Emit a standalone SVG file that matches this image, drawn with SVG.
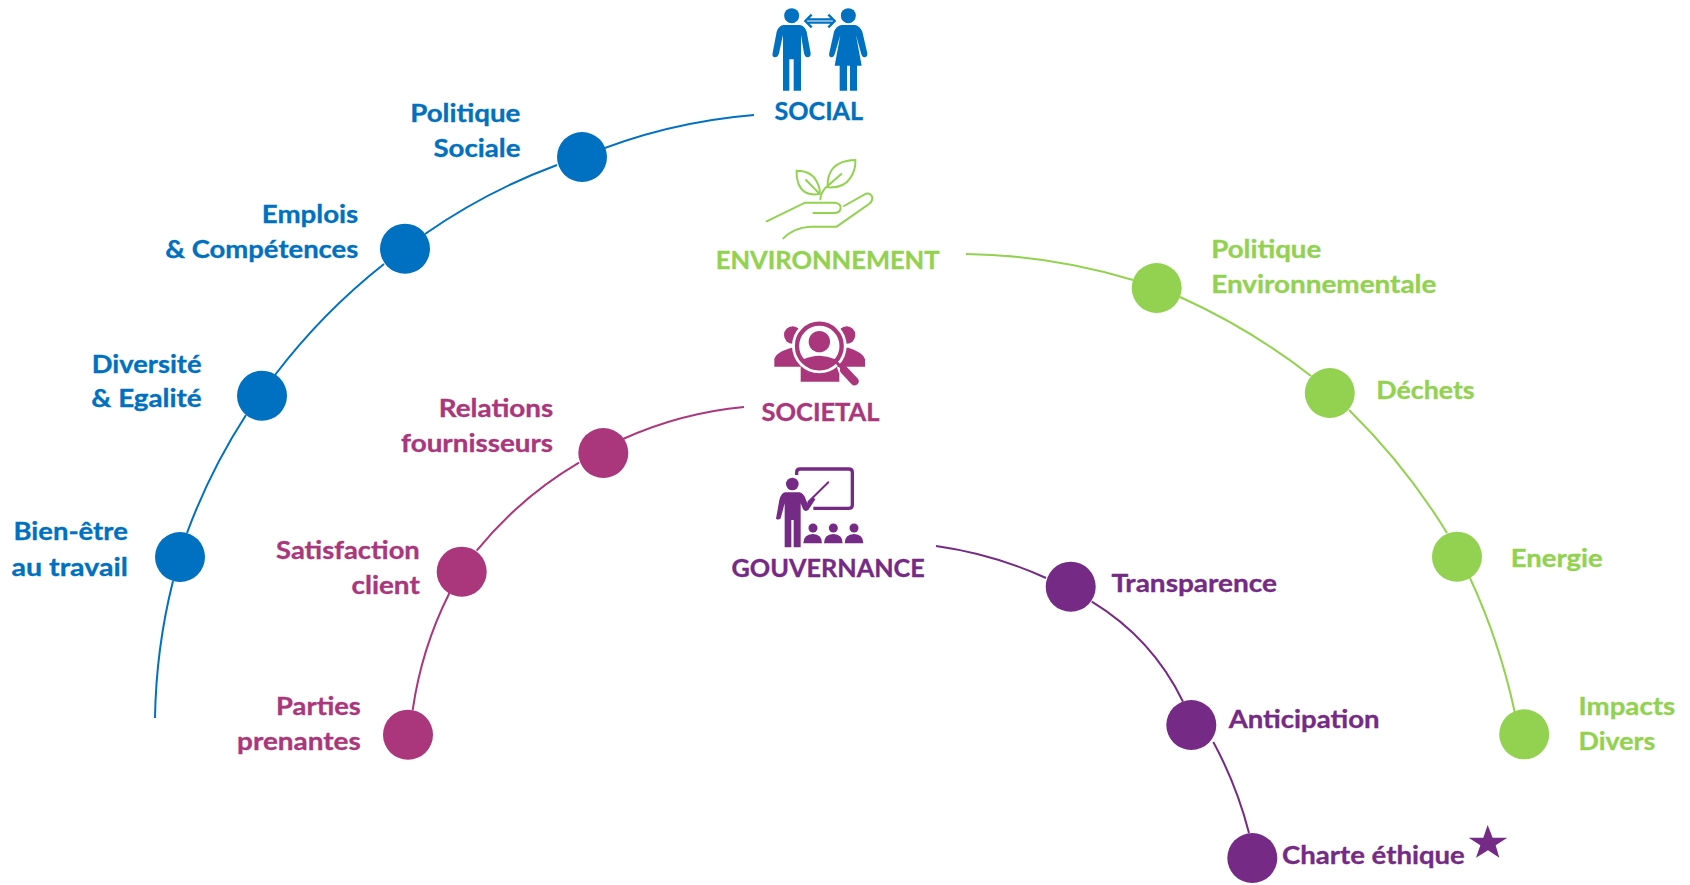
<svg xmlns="http://www.w3.org/2000/svg" width="1690" height="885" viewBox="0 0 1690 885">
<style>
text{font-family:Lato,"Liberation Sans",sans-serif;font-weight:700;font-size:25.5px;stroke-width:.35px}
.b{fill:#0070C0;stroke:#0070C0}.g{fill:#92D250;stroke:#92D250}.p{fill:#AA367B;stroke:#AA367B}.v{fill:#752A85;stroke:#752A85}
circle.b,circle.g,circle.p,circle.v,polygon.v{stroke:none}
.ln{fill:none;stroke-width:2}
</style>
<rect width="1690" height="885" fill="#fff"/>
<g id="connectors">
<path class="ln" stroke="#0070C0" d="M155 718A600 600 0 0 1 173 581M187 533A600 600 0 0 1 246 415M275 375A620 620 0 0 1 384 264M425 234A590 590 0 0 1 557 165M582 157A560 560 0 0 1 754 115"/>
<path class="ln" stroke="#92D250" d="M966 254A600 600 0 0 1 1133 280M1180 297A640 640 0 0 1 1311 376M1349 410A640 640 0 0 1 1447 533M1470 578A640 640 0 0 1 1514.700 712"/>
<path class="ln" stroke="#AA367B" d="M412.700 710A380 380 0 0 1 449.300 593.300M476.700 550.700A380 380 0 0 1 579 462.700M623 439A380 380 0 0 1 744 407"/>
<path class="ln" stroke="#752A85" d="M936 546A400 400 0 0 1 1046 578M1091.800 601.700A240 240 0 0 1 1183 701.700M1213.300 742A400 400 0 0 1 1249 833"/>
</g>

<g id="social-header">
<g transform="translate(700 0) scale(.33333)" fill="#0070C0">
<circle cx="275" cy="47" r="22.500"/>
<path d="M250 75H300Q315 78 320 95L332 160Q333 172 322 172Q315 172 312 160L303 105V272H281V178H268V272H249V105L237 160Q234 172 225 172Q215 170 218 158L230 95Q235 78 250 75Z"/>
<circle cx="445" cy="47" r="22.500"/>
<path d="M425 75H465Q480 78 487 95L502 160Q503 172 493 172Q486 172 483 160L468 105L485 197H471V272H450V197H441V272H419V197H404L421 105L405 160Q402 172 394 172Q385 170 388 158L402 95Q408 78 425 75Z"/>
<path fill="none" stroke="#0070C0" stroke-width="7" d="M335 44L316 63L335 82M385 44L404 63L385 82M322 58H398M322 68H398"/>
</g>
<text class="b" x="774.500" y="120" textLength="88.600" lengthAdjust="spacingAndGlyphs">SOCIAL</text>
</g>

<g id="environnement-header">
<g transform="translate(700 0) scale(.33333)" fill="none" stroke="#92D250" stroke-width="6" stroke-linecap="round">
<path d="M200 664L315 608H405Q422 610 422 624Q420 638 405 639H340M432 618L498 581Q512 578 517 592Q518 602 510 610L410 680H330Q280 683 250 715"/>
<path d="M290 512Q340 512 355 555Q362 575 358 582Q310 590 295 550Q288 530 290 512ZM318 540L355 578"/>
<path d="M466 480Q410 482 392 515Q380 540 384 562Q430 565 450 535Q468 510 466 480ZM424 522L375 565Q362 580 361 598"/>
</g>
<text class="g" x="715.800" y="269.300" textLength="223.700" lengthAdjust="spacingAndGlyphs">ENVIRONNEMENT</text>
</g>

<g id="societal-header">
<g transform="translate(700 290) scale(.33333)" fill="#AA367B">
<circle cx="278" cy="135" r="26"/>
<circle cx="440" cy="135" r="26"/>
<path d="M223 230V208Q226 187 275 173H445Q490 187 495 208V230Z"/>
<path d="M302 275V230H410L418 252V275Z"/>
<circle cx="358" cy="168" r="82" fill="#fff"/>
<circle cx="358" cy="168" r="67" fill="none" stroke="#AA367B" stroke-width="13"/>
<circle cx="358" cy="155" r="32"/>
<path d="M310 208Q335 197 358 197Q382 197 406 208Q390 236 358 236Q326 236 310 208Z"/>
<path d="M410 218L432 240" stroke="#AA367B" stroke-width="9"/>
<path d="M432 240L464 274" stroke="#AA367B" stroke-width="25" stroke-linecap="round"/>
</g>
<text class="p" x="761.500" y="420.700" textLength="118" lengthAdjust="spacingAndGlyphs">SOCIETAL</text>
</g>

<g id="gouvernance-header">
<g transform="translate(700 290) scale(.33333)" fill="#752A85">
<path fill="none" stroke="#752A85" stroke-width="10" d="M290 555V547Q290 537 300 537H447Q457 537 457 547V645Q457 655 447 655H340"/>
<path fill="none" stroke="#752A85" stroke-width="6" stroke-linecap="round" d="M385 577L325 636"/>
<circle cx="277" cy="582" r="19"/>
<path d="M255 607H298Q312 610 317 628L322 640L338 620L346 628L325 660Q312 668 308 655L302 640V772H281V690H274V772H254V640L242 685Q236 692 228 686L238 630Q243 610 255 607Z"/>
<circle cx="339" cy="714" r="13.500"/><circle cx="400" cy="714" r="13.500"/><circle cx="462" cy="714" r="13.500"/>
<path d="M310 760Q310 733 339 732Q366 733 366 760ZM372 760Q372 733 400 732Q428 733 428 760ZM434 760Q434 733 462 732Q490 733 490 760Z"/>
</g>
<text class="v" x="731.500" y="577" textLength="193.300" lengthAdjust="spacingAndGlyphs">GOUVERNANCE</text>
</g>

<g id="politique-sociale"><circle class="b" cx="582" cy="157" r="25"/>
<text class="b" x="410.200" y="121.700" textLength="110.200" lengthAdjust="spacingAndGlyphs">Politique</text>
<text class="b" x="433.400" y="156.700" textLength="87" lengthAdjust="spacingAndGlyphs">Sociale</text></g>
<g id="emplois"><circle class="b" cx="405" cy="248.700" r="25"/>
<text class="b" x="261.800" y="222.700" textLength="96.500" lengthAdjust="spacingAndGlyphs">Emplois</text>
<text class="b" x="165.200" y="257.700" textLength="193.100" lengthAdjust="spacingAndGlyphs">&amp; Compétences</text></g>
<g id="diversite"><circle class="b" cx="262" cy="395.700" r="25"/>
<text class="b" x="91.700" y="372.700" textLength="109.800" lengthAdjust="spacingAndGlyphs">Diversité</text>
<text class="b" x="91.300" y="407.300" textLength="110.200" lengthAdjust="spacingAndGlyphs">&amp; Egalité</text></g>
<g id="bien-etre"><circle class="b" cx="180" cy="557" r="25"/>
<text class="b" x="13.500" y="540" textLength="114.300" lengthAdjust="spacingAndGlyphs">Bien-être</text>
<text class="b" x="11.500" y="576" textLength="116.300" lengthAdjust="spacingAndGlyphs">au travail</text></g>

<g id="politique-env"><circle class="g" cx="1156.700" cy="288" r="25"/>
<text class="g" x="1211.200" y="258.300" textLength="110" lengthAdjust="spacingAndGlyphs">Politique</text>
<text class="g" x="1211.200" y="292.700" textLength="225.200" lengthAdjust="spacingAndGlyphs">Environnementale</text></g>
<g id="dechets"><circle class="g" cx="1329.800" cy="393" r="25"/>
<text class="g" x="1376.300" y="399" textLength="98.300" lengthAdjust="spacingAndGlyphs">Déchets</text></g>
<g id="energie"><circle class="g" cx="1457" cy="556.700" r="25"/>
<text class="g" x="1510.800" y="566.700" textLength="91.800" lengthAdjust="spacingAndGlyphs">Energie</text></g>
<g id="impacts"><circle class="g" cx="1524.200" cy="734.300" r="25"/>
<text class="g" x="1578.600" y="715" textLength="96.500" lengthAdjust="spacingAndGlyphs">Impacts</text>
<text class="g" x="1578.600" y="750" textLength="76.600" lengthAdjust="spacingAndGlyphs">Divers</text></g>

<g id="relations"><circle class="p" cx="603.300" cy="453" r="25"/>
<text class="p" x="438.800" y="416.700" textLength="114.300" lengthAdjust="spacingAndGlyphs">Relations</text>
<text class="p" x="401.100" y="452" textLength="152" lengthAdjust="spacingAndGlyphs">fournisseurs</text></g>
<g id="satisfaction"><circle class="p" cx="461.700" cy="571.700" r="25"/>
<text class="p" x="276.100" y="559" textLength="143.700" lengthAdjust="spacingAndGlyphs">Satisfaction</text>
<text class="p" x="351.500" y="593.700" textLength="68.300" lengthAdjust="spacingAndGlyphs">client</text></g>
<g id="parties"><circle class="p" cx="408" cy="734.700" r="25"/>
<text class="p" x="276.100" y="715.300" textLength="84.700" lengthAdjust="spacingAndGlyphs">Parties</text>
<text class="p" x="237.100" y="750.300" textLength="123.700" lengthAdjust="spacingAndGlyphs">prenantes</text></g>

<g id="transparence"><circle class="v" cx="1070.700" cy="586.700" r="25"/>
<text class="v" x="1111.400" y="592" textLength="165.700" lengthAdjust="spacingAndGlyphs">Transparence</text></g>
<g id="anticipation"><circle class="v" cx="1191.300" cy="725" r="25"/>
<text class="v" x="1228.700" y="728.300" textLength="150.800" lengthAdjust="spacingAndGlyphs">Anticipation</text></g>
<g id="charte"><circle class="v" cx="1252.300" cy="858" r="25"/>
<text class="v" x="1282.100" y="864.300" textLength="182.700" lengthAdjust="spacingAndGlyphs">Charte éthique</text>
<polygon class="v" transform="translate(1200 760) scale(.33333)" points="863,195 878,233 922,233 887,256 898,293 864,271 828,293 841,256 806,233 850,233"/></g>
</svg>
